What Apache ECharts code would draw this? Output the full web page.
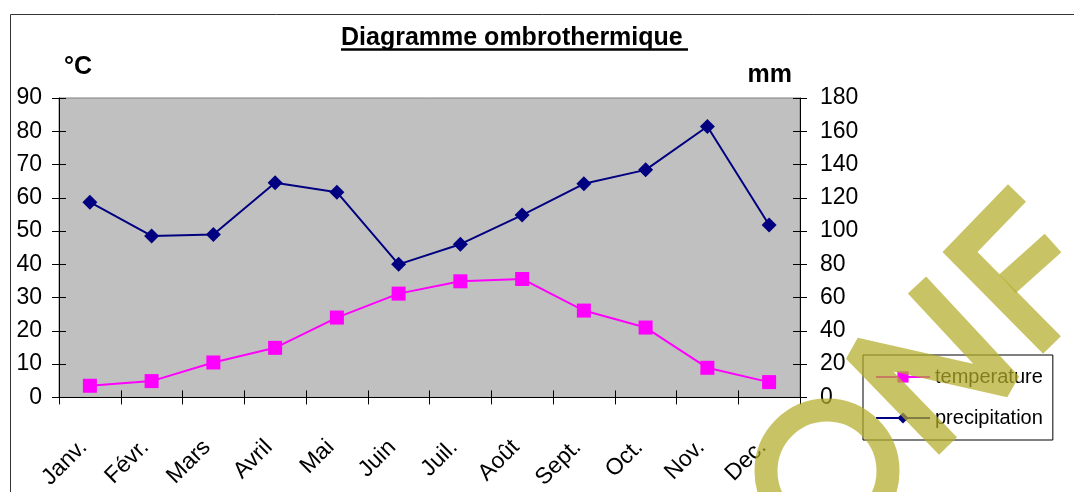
<!DOCTYPE html>
<html>
<head>
<meta charset="utf-8">
<script src="https://cdn.jsdelivr.net/npm/echarts@6/dist/echarts.min.js"></script>
<style>
html,body{margin:0;padding:0;background:#fff;}
#chart{width:1074px;height:492px;}
</style>
</head>
<body>
<div id="chart"></div>
<script>
const months = ['Janv.','Févr.','Mars','Avril','Mai','Juin','Juil.','Août','Sept.','Oct.','Nov.','Dec.'];
const temperature = [3.5, 4.9, 10.5, 14.9, 24.0, 31.2, 34.9, 35.6, 26.1, 21.0, 8.9, 4.6];
const precipitation = [117.4, 97.1, 97.9, 129.0, 123.4, 80.0, 92.1, 109.6, 128.4, 136.8, 162.9, 103.6];
const tempAxis = {min: 0, max: 90, interval: 10};
const precAxis = {min: 0, max: 180, interval: 20};

const FONT = "'Liberation Sans', Arial, sans-serif";
const WM = '#b3ac28';      // drawn at 0.72 opacity -> khaki #c8c364 over white
const WM_OPACITY = 0.72;

const chart = echarts.init(document.getElementById('chart'), null, {renderer: 'canvas'});

function yAx(cfg, pos, inside, labels, extra) {
  return Object.assign({
    type: 'value', position: pos, min: cfg.min, max: cfg.max, interval: cfg.interval,
    axisLine: {show: labels, lineStyle: {color: '#000', width: 1}},
    axisTick: {show: true, inside: inside, length: 7, lineStyle: {color: '#000'}},
    axisLabel: {show: labels, color: '#000', fontSize: 23, fontFamily: FONT, margin: pos === 'left' ? 17 : 20},
    splitLine: {show: false}
  }, extra || {});
}

// decorative "ONF" watermark (not data), drawn in pixel space above the chart, semi-transparent
function renderWatermark() {
  const st = function (w, join) {
    return {fill: null, stroke: WM, lineWidth: w, lineJoin: join || 'miter', lineCap: 'butt', opacity: WM_OPACITY};
  };
  return {
    type: 'group',
    children: [
      {type: 'circle', shape: {cx: 827, cy: 471, r: 61}, style: st(23)},
      {type: 'polyline', shape: {points: [[948, 446], [855, 350], [1010, 385], [917, 285]]}, style: st(25, 'bevel')},
      {type: 'polyline', shape: {points: [[1017, 193], [960, 252], [1052, 345]]}, style: st(25, 'miter')},
      {type: 'line', shape: {x1: 1007.5, y1: 283.8, x2: 1053, y2: 243}, style: st(25)}
    ]
  };
}

const option = {
  animation: false,
  backgroundColor: '#fff',
  textStyle: {fontFamily: FONT},
  title: {
    text: 'Diagramme ombrothermique', left: 341, top: 26, padding: 0,
    textStyle: {fontSize: 25, fontWeight: 'bold', color: '#000', fontFamily: FONT}
  },
  grid: {
    left: 59, top: 98, width: 741, height: 301,
    show: true, backgroundColor: '#c0c0c0', borderColor: '#808080', borderWidth: 1
  },
  legend: {
    orient: 'vertical', left: 863, top: 355,
    padding: [12, 10, 12, 12], itemGap: 21, itemWidth: 54, itemHeight: 14,
    borderColor: '#000', borderWidth: 1, backgroundColor: 'transparent',
    textStyle: {fontSize: 20, color: '#000', fontFamily: FONT},
    data: ['temperature', 'precipitation']
  },
  xAxis: [
    {
      type: 'category', data: months, position: 'bottom',
      axisLine: {lineStyle: {color: '#000', width: 1}},
      axisTick: {show: true, length: 7, lineStyle: {color: '#000'}},
      axisLabel: {rotate: 45, margin: 40, padding: [0, 9, 0, 0], fontSize: 23, color: '#000', fontFamily: FONT, interval: 0},
      splitLine: {show: false}
    },
    {
      type: 'category', data: months, position: 'bottom',
      axisLine: {show: false},
      axisTick: {show: true, inside: true, length: 7, lineStyle: {color: '#000'}},
      axisLabel: {show: false},
      splitLine: {show: false}
    }
  ],
  yAxis: [
    yAx(tempAxis, 'left', false, true, {
      name: '°C', nameLocation: 'end', nameGap: 18,
      nameTextStyle: {fontSize: 25, fontWeight: 'bold', color: '#000', fontFamily: FONT, align: 'left', padding: [0, 0, 0, 5]}
    }),
    yAx(precAxis, 'right', false, true, {
      name: 'mm', nameLocation: 'end', nameGap: 10,
      nameTextStyle: {fontSize: 25, fontWeight: 'bold', color: '#000', fontFamily: FONT, align: 'right', padding: [0, 8, 0, 0]}
    }),
    yAx(tempAxis, 'left', true, false),
    yAx(precAxis, 'right', true, false)
  ],
  graphic: [
    {type: 'rect', silent: true, shape: {x: 10.5, y: 14.5, width: 1200, height: 600}, style: {fill: null, stroke: '#333', lineWidth: 1}},
    {type: 'line', silent: true, shape: {x1: 341, y1: 49.5, x2: 688, y2: 49.5}, style: {stroke: '#000', lineWidth: 2.5}}
  ],
  series: [
    {
      name: 'temperature', type: 'line', xAxisIndex: 0, yAxisIndex: 0, data: temperature,
      symbol: 'rect', symbolSize: 14, color: '#ff00ff',
      lineStyle: {color: '#ff00ff', width: 2}, itemStyle: {color: '#ff00ff'}
    },
    {
      name: 'precipitation', type: 'line', xAxisIndex: 0, yAxisIndex: 1, data: precipitation,
      symbol: 'diamond', symbolSize: 15, color: '#000080',
      lineStyle: {color: '#000080', width: 2}, itemStyle: {color: '#000080'}
    },
    {
      name: 'watermark', type: 'custom', coordinateSystem: 'none', silent: true,
      z: 50, data: [0], renderItem: renderWatermark
    }
  ]
};
chart.setOption(option);
</script>
</body>
</html>
